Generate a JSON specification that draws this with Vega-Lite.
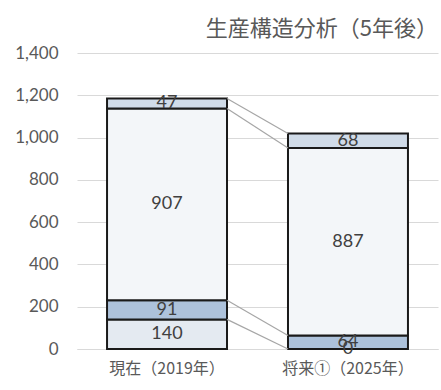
{
  "$schema": "https://vega.github.io/schema/vega-lite/v6.json",
  "autosize": "none",
  "width": 361,
  "height": 296,
  "padding": {"left": 77, "top": 53, "right": 3, "bottom": 41},
  "background": "white",
  "title": {
    "text": "生産構造分析（5年後）",
    "anchor": "end",
    "frame": "group",
    "font": "Noto Sans CJK JP",
    "fontSize": 22,
    "fontWeight": "normal",
    "color": "#595959",
    "offset": 3
  },
  "config": {"view": {"stroke": null}},
  "datasets": {
    "bars": [
      {"cat": "現在（2019年）", "seg": "A", "ord": 1, "value": 140},
      {"cat": "現在（2019年）", "seg": "B", "ord": 2, "value": 91},
      {"cat": "現在（2019年）", "seg": "C", "ord": 3, "value": 907},
      {"cat": "現在（2019年）", "seg": "D", "ord": 4, "value": 47},
      {"cat": "将来①（2025年）", "seg": "A", "ord": 1, "value": 0},
      {"cat": "将来①（2025年）", "seg": "B", "ord": 2, "value": 64},
      {"cat": "将来①（2025年）", "seg": "C", "ord": 3, "value": 887},
      {"cat": "将来①（2025年）", "seg": "D", "ord": 4, "value": 68}
    ],
    "links": [
      {"from": "現在（2019年）", "to": "将来①（2025年）", "a": 140, "b": 0},
      {"from": "現在（2019年）", "to": "将来①（2025年）", "a": 231, "b": 64},
      {"from": "現在（2019年）", "to": "将来①（2025年）", "a": 1138, "b": 951},
      {"from": "現在（2019年）", "to": "将来①（2025年）", "a": 1185, "b": 1019}
    ]
  },
  "encoding": {
    "x": {
      "field": "cat",
      "type": "nominal",
      "scale": {"domain": ["現在（2019年）", "将来①（2025年）"], "paddingInner": 0.337, "paddingOuter": 0.166},
      "axis": {
        "title": null,
        "labelAngle": 0,
        "labelFont": "Noto Sans CJK JP",
        "labelFontSize": 16,
        "labelColor": "#595959",
        "labelPadding": 11,
        "ticks": false,
        "domain": true,
        "domainColor": "#d9d9d9"
      }
    }
  },
  "layer": [
    {
      "data": {"name": "bars"},
      "transform": [
        {"stack": "value", "groupby": ["cat"], "sort": [{"field": "ord"}], "as": ["v0", "v1"]}
      ],
      "mark": {"type": "bar", "stroke": "#1a1a1a", "strokeWidth": 2},
      "encoding": {
        "y": {
          "field": "v0",
          "type": "quantitative",
          "scale": {"domain": [0, 1400]},
          "axis": {
            "title": null,
            "values": [0, 200, 400, 600, 800, 1000, 1200, 1400],
            "format": ",d",
            "labelFont": "Lato",
            "labelFontSize": 17,
            "labelColor": "#595959",
            "labelPadding": 19,
            "ticks": false,
            "domain": false,
            "gridColor": "#d9d9d9",
            "gridWidth": 1
          }
        },
        "y2": {"field": "v1"},
        "fill": {
          "field": "seg",
          "type": "nominal",
          "scale": {"domain": ["A", "B", "C", "D"], "range": ["#e4eaf1", "#adc2db", "#f3f6f9", "#d0dbe8"]},
          "legend": null
        }
      }
    },
    {
      "data": {"name": "links"},
      "mark": {"type": "rule", "color": "#a6a6a6", "strokeWidth": 1.2},
      "encoding": {
        "x": {"field": "from", "type": "nominal", "bandPosition": 1},
        "x2": {"field": "to", "bandPosition": 0},
        "y": {"field": "a", "type": "quantitative"},
        "y2": {"field": "b"}
      }
    },
    {
      "data": {"name": "bars"},
      "transform": [
        {"stack": "value", "groupby": ["cat"], "sort": [{"field": "ord"}], "as": ["v0", "v1"]},
        {"calculate": "(datum.v0 + datum.v1) / 2", "as": "mid"}
      ],
      "mark": {"type": "text", "font": "Lato", "fontSize": 18, "color": "#404040", "baseline": "middle"},
      "encoding": {
        "y": {"field": "mid", "type": "quantitative"},
        "text": {"field": "value", "type": "quantitative"}
      }
    }
  ]
}
